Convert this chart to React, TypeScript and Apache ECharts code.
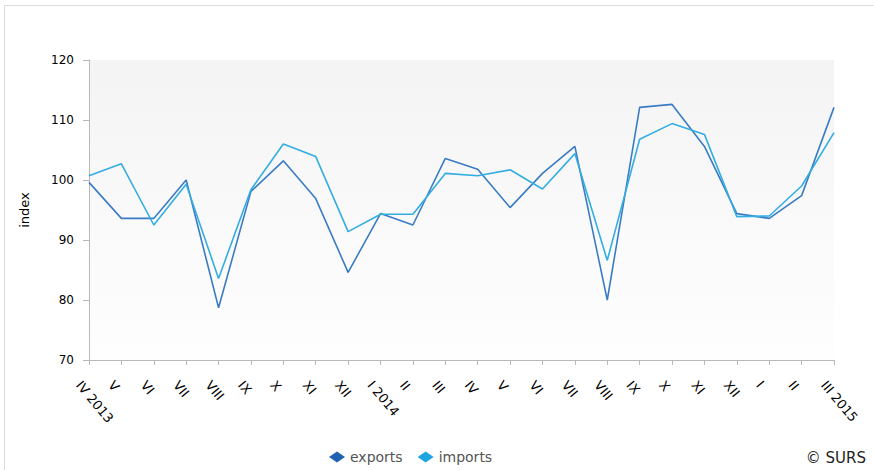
import React, { useEffect, useRef } from "react";
import * as echarts from "echarts";

const categories = [
  "IV 2013", "V", "VI", "VII", "VIII", "IX", "X", "XI", "XII", "I 2014",
  "II", "III", "IV", "V", "VI", "VII", "VIII", "IX", "X", "XI", "XII", "I", "II", "III 2015",
];
const exportsIdx = [
  99.6, 93.6, 93.6, 100.0, 78.7, 98.1, 103.2, 96.9, 84.6, 94.4,
  92.5, 103.6, 101.8, 95.4, 101.1, 105.6, 80.0, 112.1, 112.6, 105.6, 94.4, 93.6, 97.4, 112.1,
];
const importsIdx = [
  100.7, 102.7, 92.5, 99.3, 83.6, 98.4, 106.0, 103.9, 91.4, 94.3,
  94.3, 101.1, 100.7, 101.7, 98.5, 104.4, 86.6, 106.8, 109.4, 107.6, 93.9, 94.0, 99.0, 107.9,
];
const yTicks = { min: 70, max: 120, interval: 10 };

export default function App() {
  const ref = useRef<HTMLDivElement>(null);
  useEffect(() => {
    if (!ref.current) return;
    const chart = echarts.init(ref.current, undefined, { renderer: "svg" });
    const font = "'DejaVu Sans', Verdana, sans-serif";
    chart.setOption({
      animation: false,
      textStyle: { fontFamily: font },
      graphic: [
        {
          type: "rect",
          shape: { x: 4.5, y: 5.5, width: 900, height: 500 },
          style: { fill: "none", stroke: "#dcdcdc", lineWidth: 1 },
          silent: true,
        },
        {
          type: "text",
          right: 8,
          top: 450,
          style: { text: "© SURS", fill: "#222", font: `15px ${font}` },
        },
      ],
      legend: {
        bottom: 1,
        left: 324,
        itemGap: 15,
        itemWidth: 16,
        itemHeight: 11,
        icon: "diamond",
        textStyle: { color: "#555", fontSize: 14, fontFamily: font },
        data: ["exports", "imports"],
      },
      grid: {
        left: 89,
        right: 40,
        top: 60,
        bottom: 110,
        show: true,
        borderWidth: 0,
        backgroundColor: new echarts.graphic.LinearGradient(0, 0, 0, 1, [
          { offset: 0, color: "#f4f4f4" },
          { offset: 1, color: "#fefefe" },
        ]),
      },
      xAxis: {
        type: "category",
        data: categories,
        boundaryGap: false,
        axisLine: { lineStyle: { color: "#b8b8b8" } },
        axisTick: { length: 5, lineStyle: { color: "#b8b8b8" } },
        axisLabel: {
          rotate: -50,
          interval: 0,
          margin: 14,
          padding: [7, 0, 0, 0],
          align: "left",
          verticalAlign: "top",
          color: "#000",
          fontSize: 13,
          fontFamily: font,
        },
      },
      yAxis: {
        type: "value",
        min: yTicks.min,
        max: yTicks.max,
        interval: yTicks.interval,
        name: "index",
        nameLocation: "middle",
        nameGap: 58,
        nameTextStyle: { color: "#000", fontSize: 13, fontFamily: font },
        axisLine: { show: true, lineStyle: { color: "#b8b8b8" } },
        axisTick: { show: true, length: 6, lineStyle: { color: "#b8b8b8" } },
        axisLabel: { color: "#000", fontSize: 12, margin: 15, fontFamily: font },
        splitLine: { show: false },
      },
      series: [
        {
          name: "exports",
          type: "line",
          data: exportsIdx,
          showSymbol: false,
          symbol: "none",
          itemStyle: { color: "#1f62b0" },
          lineStyle: { color: "#3a7cc4", width: 1.6 },
        },
        {
          name: "imports",
          type: "line",
          data: importsIdx,
          showSymbol: false,
          symbol: "none",
          itemStyle: { color: "#1ea4e0" },
          lineStyle: { color: "#33ade2", width: 1.6 },
        },
      ],
    });
    return () => chart.dispose();
  }, []);
  return <div ref={ref} style={{ width: 874, height: 470, position: "absolute", left: 0, top: 0 }} />;
}
